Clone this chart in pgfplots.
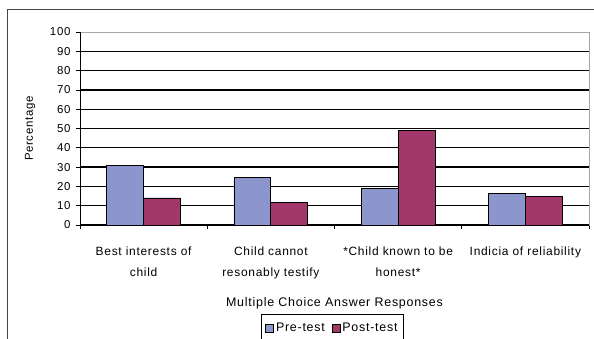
\documentclass[border=0pt]{standalone}
\usepackage{fontspec}
\setmainfont{Liberation Sans}[LetterSpace=6]
\usepackage{pgfplots}
\pgfplotsset{compat=1.18}
\definecolor{pre}{RGB}{140,150,204}
\definecolor{post}{RGB}{162,56,106}
\definecolor{frame}{RGB}{70,70,70}
\begin{document}
\begin{tikzpicture}
\useasboundingbox (0,0) rectangle (594bp,-339bp);
\draw[frame,line width=1bp] (7bp,-339bp) -- (7bp,-9bp) -- (594bp,-9bp);
\coordinate (A) at (80bp,-225bp);
\begin{axis}[
  at={(A)}, anchor=south west,
  scale only axis, width=509bp, height=193bp,
  ymin=0, ymax=100,
  xmin=-0.5, xmax=3.5,
  ytick={0,10,...,90},
  extra y ticks={100},
  extra y tick style={grid=none},
  ymajorgrids,
  grid style={black, line width=1.3bp},
  axis line style={draw=gray!70, line width=1bp},
  xtick={0,1,2,3},
  xticklabels={{Best interests of\\child},{Child cannot\\resonably testify},{*Child known to be\\honest*},{Indicia of reliability}},
  major x tick style={draw=none},
  minor xtick={-0.5,0.5,1.5,2.5,3.5},
  minor x tick style={black, line width=0.8bp},
  y tick style={black, line width=0.8bp},
  minor tick length=4bp, major tick length=4bp,
  tick align=outside, tick pos=left,
  xticklabel style={align=center, font=\fontsize{12}{21}\selectfont, yshift=-14bp},
  yticklabel style={font=\fontsize{11.5}{13}\selectfont, xshift=-2bp},
  /pgf/number format/assume math mode=true,
  xlabel={Multiple Choice Answer Responses},
  xlabel style={font=\fontsize{12.5}{13}\selectfont, yshift=-12bp},
  ylabel={Percentage},
  ylabel style={font=\fontsize{11.5}{13}\selectfont, yshift=4bp},
  ybar=0pt, bar width=0.29,
  legend columns=2,
  legend style={at={(0.496,-0.461)}, anchor=north, draw=black, line width=0.8bp,
    font=\fontsize{12.5}{13}\selectfont, inner xsep=4bp, inner ysep=7bp,
    /tikz/every even column/.append style={column sep=5bp}},
  legend image code/.code={\draw[#1, draw=black, line width=0.6bp] (0bp,-3.5bp) rectangle (8bp,4.5bp);},
  clip=false,
]
\addplot[fill=pre, draw=black, line width=0.8bp, bar shift=-0.145] coordinates {(0,31) (1,24.5) (2,19) (3,16.5)};
\addplot[fill=post, draw=black, line width=0.8bp, bar shift=0.145] coordinates {(0,14) (1,11.5) (2,49) (3,15)};
\legend{Pre-test, Post-test}
\draw[black, line width=1bp] (rel axis cs:0,0) -- (rel axis cs:0,1);
\draw[black, line width=1bp] (rel axis cs:0,0) -- (rel axis cs:1,0);
\end{axis}
\end{tikzpicture}
\end{document}
